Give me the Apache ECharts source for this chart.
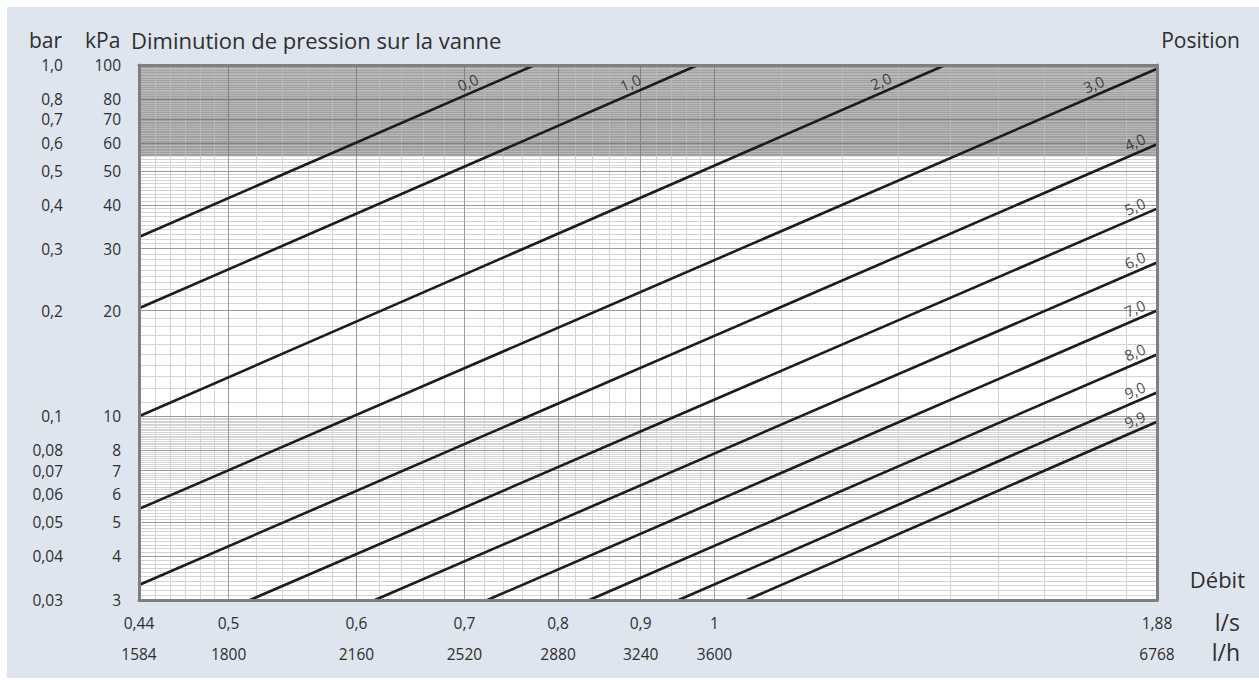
<!DOCTYPE html>
<html><head><meta charset="utf-8">
<script src="https://cdn.jsdelivr.net/npm/echarts@6/dist/echarts.min.js"></script>
<style>html,body{margin:0;padding:0;background:#fff}#c{width:1259px;height:680px}</style>
</head><body><div id="c"></div>
<script>
// ---- data ----
const positions = ['0,0','1,0','2,0','3,0','4,0','5,0','6,0','7,0','8,0','9,0','9,9'];
const startQ = [0.44, 0.44, 0.44, 0.44, 0.44, 0.5155, 0.616, 0.7232, 0.8365, 0.95, 1.047];
const startP = [32.4, 20.3, 10.0, 5.45, 3.31, 3, 3, 3, 3, 3, 3];
const endQ   = [0.774, 0.9766, 1.39, 1.88, 1.88, 1.88, 1.88, 1.88, 1.88, 1.88, 1.88];
const endP   = [100, 100, 100, 97.6, 59.5, 39.0, 27.4, 20.0, 15.0, 11.69, 9.65];
const labelQ = [0.7077, 0.8923, 1.2756, 1.728, 1.8327, 1.8327, 1.8327, 1.8327, 1.8327, 1.8327, 1.8327];

const lsTicks  = [0.44, 0.5, 0.6, 0.7, 0.8, 0.9, 1, 1.88];
const lsLabels = ['0,44','0,5','0,6','0,7','0,8','0,9','1','1,88'];
const lhTicks  = [1584, 1800, 2160, 2520, 2880, 3240, 3600, 6768];
const kpaTicks = [3, 4, 5, 6, 7, 8, 10, 20, 30, 40, 50, 60, 70, 80, 100];
const barTicks = [0.03, 0.04, 0.05, 0.06, 0.07, 0.08, 0.1, 0.2, 0.3, 0.4, 0.5, 0.6, 0.7, 0.8, 1.0];
const barLabels = ['0,03','0,04','0,05','0,06','0,07','0,08','0,1','0,2','0,3','0,4','0,5','0,6','0,7','0,8','1,0'];

const shadeFrom = 55; // kPa, shaded zone up to 100
const vMajor = [0.5, 0.6, 0.7, 0.8, 0.9, 1.0];
const vMinorSteps = [[0.44, 0.5, 0.01], [0.5, 1.0, 0.02], [1.0, 1.88, 0.1]];
const hMajor = [4, 5, 6, 7, 8, 10, 20, 30, 40, 50, 60, 70, 80];
const hMinorSteps = [[3, 10, 0.1], [10, 100, 1]];

// ---- helpers ----
function steps(list, majors) {
  const out = [];
  list.forEach(([a, b, s]) => {
    const n = Math.round((b - a) / s);
    for (let i = 1; i < n; i++) {
      const v = +(a + i * s).toFixed(4);
      if (!majors.some(m => Math.abs(m - v) < 1e-6)) out.push(v);
    }
  });
  return out;
}
function pick(ticks, labels) {
  return v => {
    let bi = 0, bd = Infinity;
    ticks.forEach((t, i) => { const d = Math.abs(Math.log(t) - Math.log(v)); if (d < bd) { bd = d; bi = i; } });
    return labels[bi];
  };
}
const vMinor = steps(vMinorSteps, vMajor);
const hMinor = steps(hMinorSteps, hMajor);
const FONT = '"Open Sans", "Noto Sans", sans-serif';
const TXT = '#2e2e2e';

function vLines(vals, lo, hi) { return vals.map(x => [{coord: [x, lo]}, {coord: [x, hi]}]); }
function hLines(vals) { return vals.map(y => [{coord: [0.44, y]}, {coord: [1.88, y]}]); }
function gridSeries(name, data, color, z) {
  return {
    name, type: 'line', data: [], z, silent: true,
    markLine: { silent: true, symbol: ['none', 'none'], animation: false,
      label: {show: false}, emphasis: {disabled: true},
      lineStyle: {color, width: 1, type: 'solid'}, data }
  };
}

const series = [];
series.push({
  type: 'line', data: [], z: 1, silent: true,
  markArea: { silent: true, itemStyle: {color: '#a0a0a0'},
    data: [[{yAxis: shadeFrom}, {yAxis: 100}]] }
});
series.push(gridSeries('wMinor',
  vLines(vMinor, 3, shadeFrom).concat(hLines(hMinor.filter(v => v < shadeFrom))), '#d3d3d3', 2));
series.push(gridSeries('gMinor',
  vLines(vMinor, shadeFrom, 100).concat(hLines(hMinor.filter(v => v > shadeFrom))), '#b8b8b8', 2));
series.push(gridSeries('wMajor',
  vLines(vMajor, 3, shadeFrom).concat(hLines(hMajor.filter(v => v < shadeFrom))), '#9a9a9a', 3));
series.push(gridSeries('gMajor',
  vLines(vMajor, shadeFrom, 100).concat(hLines(hMajor.filter(v => v > shadeFrom))), '#828282', 3));

positions.forEach((p, i) => {
  series.push({
    name: p, type: 'line', z: 5, silent: true, showSymbol: false, symbol: 'none',
    clip: true, lineStyle: {color: '#1e1b1c', width: 2.6},
    data: [[startQ[i], startP[i]], [endQ[i], endP[i]]]
  });
});
const labelPts = positions.map((p, i) => {
  const k = Math.log(endP[i] / startP[i]) / Math.log(endQ[i] / startQ[i]);
  return { name: p, value: [labelQ[i], startP[i] * Math.pow(labelQ[i] / startQ[i], k)] };
});
series.push({
  type: 'scatter', z: 6, silent: true, symbolSize: 1, itemStyle: {color: 'rgba(0,0,0,0)'},
  data: labelPts,
  label: { show: true, formatter: '{b}', position: 'inside', rotate: 23.5, offset: [0, -11],
    color: '#1a1a1a', fontSize: 15, fontFamily: FONT }
});

const axisLineStyle = {show: true, lineStyle: {color: '#7f7f7f', width: 3}};
const option = {
  animation: false,
  backgroundColor: '#dee5ef',
  textStyle: {fontFamily: FONT},
  grid: {left: 139, right: 102, top: 65, bottom: 80, show: true, backgroundColor: '#ffffff', borderWidth: 0},
  xAxis: [
    { type: 'log', logBase: 10, min: 0.44, max: 1.88, position: 'bottom', z: 10,
      axisLine: axisLineStyle, axisTick: {show: false}, splitLine: {show: false}, minorTick: {show: false},
      axisLabel: { customValues: lsTicks, formatter: pick(lsTicks, lsLabels), margin: 15,
        fontSize: 15.5, color: TXT, fontFamily: FONT } },
    { type: 'log', logBase: 10, min: 1584, max: 6768, position: 'bottom', offset: 31, z: 10,
      axisLine: {show: false}, axisTick: {show: false}, splitLine: {show: false},
      axisLabel: { customValues: lhTicks, formatter: v => String(Math.round(v)), margin: 15,
        fontSize: 15.5, color: TXT, fontFamily: FONT } },
    { type: 'log', logBase: 10, min: 0.44, max: 1.88, position: 'top', z: 10,
      axisLine: axisLineStyle, axisTick: {show: false}, splitLine: {show: false}, axisLabel: {show: false} }
  ],
  yAxis: [
    { type: 'log', logBase: 10, min: 3, max: 100, position: 'left', z: 10,
      axisLine: axisLineStyle, axisTick: {show: false}, splitLine: {show: false},
      axisLabel: { customValues: kpaTicks, formatter: v => String(Math.round(v)), margin: 18,
        fontSize: 15.5, color: TXT, fontFamily: FONT } },
    { type: 'log', logBase: 10, min: 0.03, max: 1, position: 'left', offset: 58, z: 10,
      axisLine: {show: false}, axisTick: {show: false}, splitLine: {show: false},
      axisLabel: { customValues: barTicks, formatter: pick(barTicks, barLabels), margin: 18,
        fontSize: 15.5, color: TXT, fontFamily: FONT } },
    { type: 'log', logBase: 10, min: 3, max: 100, position: 'right', z: 10,
      axisLine: axisLineStyle, axisTick: {show: false}, splitLine: {show: false}, axisLabel: {show: false} }
  ],
  graphic: [
    {type: 'rect', shape: {x: 0, y: 0, width: 7, height: 680}, style: {fill: '#fff'}, silent: true},
    {type: 'rect', shape: {x: 0, y: 0, width: 1259, height: 7}, style: {fill: '#fff'}, silent: true},
    {type: 'rect', shape: {x: 0, y: 678, width: 1259, height: 2}, style: {fill: '#fff'}, silent: true},
    {type: 'text', x: 29, y: 40, style: {text: 'bar', font: '21px ' + FONT, fill: TXT, textVerticalAlign: 'middle'}},
    {type: 'text', x: 85, y: 40, style: {text: 'kPa', font: '21px ' + FONT, fill: TXT, textVerticalAlign: 'middle'}},
    {type: 'text', x: 131, y: 40, style: {text: 'Diminution de pression sur la vanne', font: '22px ' + FONT, fill: TXT, textVerticalAlign: 'middle'}},
    {type: 'text', x: 1240, y: 40, style: {text: 'Position', font: '21px ' + FONT, fill: TXT, textAlign: 'right', textVerticalAlign: 'middle'}},
    {type: 'text', x: 1245, y: 579, style: {text: 'Débit', font: '22px ' + FONT, fill: TXT, textAlign: 'right', textVerticalAlign: 'middle'}},
    {type: 'text', x: 1240, y: 622, style: {text: 'l/s', font: '23px ' + FONT, fill: TXT, textAlign: 'right', textVerticalAlign: 'middle'}},
    {type: 'text', x: 1240, y: 652, style: {text: 'l/h', font: '23px ' + FONT, fill: TXT, textAlign: 'right', textVerticalAlign: 'middle'}}
  ],
  series
};
const chart = echarts.init(document.getElementById('c'), null, {renderer: 'svg', width: 1259, height: 680});
chart.setOption(option);
</script>
</body></html>
